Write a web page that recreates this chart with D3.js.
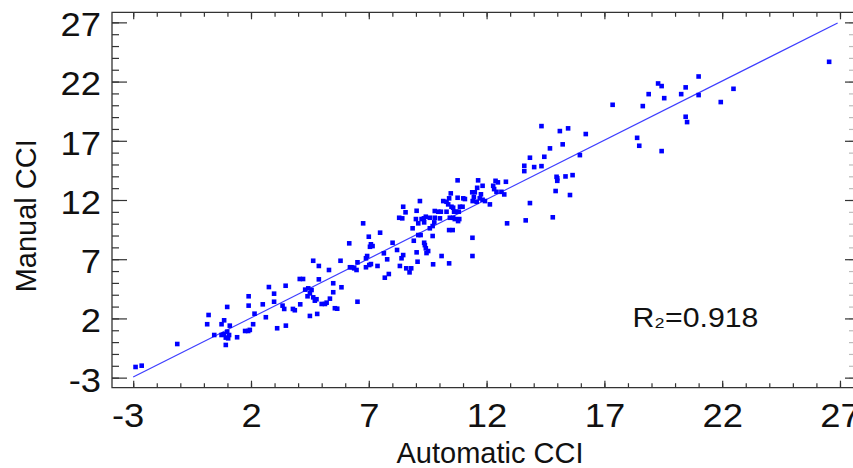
<!DOCTYPE html>
<html><head><meta charset="utf-8">
<script src="https://cdn.jsdelivr.net/npm/d3@7"></script>
<style>html,body{margin:0;padding:0;background:#fff;overflow:hidden}</style>
</head><body>
<svg id="chart" width="853" height="468"></svg>
<script>
// Automatic CCI (x) and Manual CCI (y) for each case
const autoCCI = [
 -2.90,-2.64,-1.13,0.20,0.14,0.75,0.86,0.99,0.44,0.75,0.85,0.99,1.07,0.93,1.03,1.10,0.93,1.41,1.75,1.88,1.95,1.90,1.90,2.09,2.15,2.50,2.63,2.76,2.98,2.98,3.11,3.48,3.47,3.34,3.41,3.78,3.86,4.09,4.07,4.21,4.30,4.43,4.40,
 4.50,4.57,4.64,4.71,4.78,5.00,5.14,5.21,5.35,5.56,5.66,4.81,4.50,5.49,5.84,5.49,4.88,6.52,4.64,4.88,5.31,5.80,6.20,6.27,6.38,6.48,6.52,6.17,6.76,7.00,7.09,7.16,7.05,6.93,6.88,7.09,7.02,6.88,7.37,7.48,8.01,8.20,7.64,7.78,7.85,7.68,8.29,8.42,
 9.17,8.46,9.03,8.56,9.80,9.95,9.42,9.34,9.24,9.59,9.80,9.00,9.10,9.35,9.78,9.71,8.86,9.59,9.10,9.20,9.71,8.91,9.35,9.38,9.42,9.52,9.45,9.03,8.46,8.39,9.07,9.73,8.59,8.80,8.73,8.32,
 10.77,11.64,12.38,12.48,12.82,11.60,11.83,12.28,12.32,12.42,12.63,12.75,11.39,11.50,10.48,10.41,11.76,11.71,11.83,11.93,11.01,11.08,10.77,11.46,11.41,11.58,10.16,10.30,10.37,10.51,10.58,10.62,10.87,10.98,12.14,10.06,10.30,10.72,10.82,10.02,10.44,10.58,10.65,10.84,10.79,10.41,10.56,12.87,11.40,10.09,11.40,10.41,
 14.33,15.11,15.46,16.21,15.23,14.69,13.84,14.45,15.96,13.60,13.60,14.02,14.33,14.97,15.00,15.00,15.35,15.65,14.93,15.54,13.84,13.66,14.81,17.35,18.39,18.48,
 18.63,18.88,19.28,19.43,19.54,19.43,20.26,20.45,20.45,20.51,21.00,21.00,21.94,22.48,26.54
];
const manualCCI = [
 -2.10,-1.99,-0.16,2.29,1.51,1.51,1.84,2.97,0.60,0.60,0.66,0.88,0.60,0.38,0.32,1.39,-0.24,0.41,0.94,0.94,1.03,3.87,3.08,1.51,2.40,3.19,2.10,4.65,4.09,3.41,1.17,1.39,4.76,3.08,2.80,2.80,2.69,3.19,5.33,5.33,4.43,4.54,3.87,
 4.12,4.40,3.78,3.50,3.62,3.22,3.22,3.33,3.67,2.86,2.82,2.38,2.21,4.21,4.63,4.97,5.30,3.41,6.87,6.43,6.09,6.87,6.32,6.32,6.23,6.09,6.74,8.34,10.03,8.90,8.26,8.11,8.05,7.27,7.08,6.59,6.51,6.32,6.43,9.24,8.39,7.78,7.50,6.99,5.75,5.44,10.50,10.45,
 11.91,11.43,11.09,10.96,11.07,11.01,10.59,10.45,10.39,10.50,10.50,10.39,10.03,10.11,10.11,9.80,9.61,9.61,9.04,9.04,8.96,8.56,8.39,8.19,7.92,7.69,7.52,7.58,7.35,7.08,6.79,6.57,6.23,6.23,5.89,6.43,
 13.66,13.66,13.62,13.49,13.54,13.03,13.20,13.20,12.92,12.69,12.69,12.47,12.65,12.65,12.56,12.14,12.48,12.14,12.02,11.91,12.14,12.08,12.19,12.24,11.91,11.85,11.91,11.85,11.63,11.43,11.35,11.01,11.43,11.43,11.63,11.01,11.01,11.01,11.01,10.45,10.50,10.50,10.39,10.39,10.22,9.46,9.46,10.03,8.81,7.27,7.27,6.65,
 18.24,17.82,18.05,17.57,16.70,16.36,15.57,15.65,15.79,14.89,14.44,14.78,14.86,13.96,13.83,13.62,13.99,14.10,12.76,12.42,11.74,10.28,10.54,20.04,17.25,16.58,
 19.93,20.94,21.84,21.62,20.60,16.13,20.94,21.51,19.03,18.58,22.43,20.86,20.27,21.39,23.67
];
const majorTicks = [-3, 2, 7, 12, 17, 22, 27];
const minorTicks = d3.range(-3, 28, 1);
const fitX = [-3, 26.9];
const fitY = [-2.95, 26.95];
const r2Base = "R", r2Sub = "₂", r2Rest = "=0.918";
const xTitle = "Automatic CCI";
const yTitle = "Manual CCI";

const svg = d3.select("#chart");
const FONT = "'Liberation Sans', Arial, Helvetica, sans-serif";
const x = d3.scaleLinear().domain([-3.9, 27.85]).range([112, 860]);
const y = d3.scaleLinear().domain([-3.85, 27.85]).range([387.7, 12.3]);
const [x0, x1] = x.range(), [y0, y1] = y.range();
const axisColor = "#333";

function styleAxis(g, color) {
  g.select(".domain").remove();
  g.selectAll(".tick line").attr("stroke", color || axisColor).attr("stroke-width", 1.2);
}

// bottom axis
svg.append("g").attr("transform", `translate(0,${y0})`)
  .call(d3.axisBottom(x).tickValues(minorTicks).tickSize(-4.5).tickFormat(""))
  .call(styleAxis).selectAll("text").remove();
const bx = svg.append("g").attr("transform", `translate(0,${y0})`)
  .call(d3.axisBottom(x).tickValues(majorTicks).tickSize(-7).tickFormat(d3.format("d")))
  .call(styleAxis);
bx.selectAll("text")
  .attr("y", null).attr("dy", null)
  .attr("x", d => d < 0 ? -5 : 0)
  .attr("transform", d => `translate(0,39.3) scale(1.12,1)`)
  .attr("font-family", FONT).attr("font-size", 32.5).attr("fill", "#111")
  .text(d => d < 0 ? "-" + Math.abs(d) : d);

// top axis
svg.append("g").attr("transform", `translate(0,${y1})`)
  .call(d3.axisTop(x).tickValues(minorTicks).tickSize(-4.5).tickFormat(""))
  .call(styleAxis).selectAll("text").remove();
svg.append("g").attr("transform", `translate(0,${y1})`)
  .call(d3.axisTop(x).tickValues(majorTicks).tickSize(-7).tickFormat(""))
  .call(styleAxis).selectAll("text").remove();

// left axis
svg.append("g").attr("transform", `translate(${x0},0)`)
  .call(d3.axisLeft(y).tickValues(minorTicks).tickSize(-7).tickFormat(""))
  .call(styleAxis).selectAll("text").remove();
const ly = svg.append("g").attr("transform", `translate(${x0},0)`)
  .call(d3.axisLeft(y).tickValues(majorTicks).tickSize(-15).tickFormat(d3.format("d")))
  .call(styleAxis);
ly.selectAll("text")
  .attr("x", 0).attr("dy", null).attr("y", 0)
  .attr("text-anchor", "end")
  .attr("transform", "translate(-11,13.4) scale(1.12,1)")
  .attr("font-family", FONT).attr("font-size", 32.5).attr("fill", "#111")
  .text(d => d < 0 ? "-" + Math.abs(d) : d);

// right axis
svg.append("g").attr("transform", `translate(${x1},0)`)
  .call(d3.axisRight(y).tickValues(minorTicks).tickSize(-11).tickFormat(""))
  .call(g => styleAxis(g, "#bbb")).selectAll("text").remove();
svg.append("g").attr("transform", `translate(${x1},0)`)
  .call(d3.axisRight(y).tickValues(majorTicks).tickSize(-15).tickFormat(""))
  .call(styleAxis).selectAll("text").remove();

// frame
svg.append("path")
  .attr("d", `M${x1},${y1}H${x0}V${y0}H${x1}`)
  .attr("fill", "none").attr("stroke", axisColor).attr("stroke-width", 1.3);

// regression line
svg.append("line")
  .attr("x1", x(fitX[0])).attr("y1", y(fitY[0]))
  .attr("x2", x(fitX[1])).attr("y2", y(fitY[1]))
  .attr("stroke", "#3d3dff").attr("stroke-width", 1.2);

// points
const S = 4.6;
svg.append("g").selectAll("rect")
  .data(autoCCI.map((v, i) => [v, manualCCI[i]]))
  .join("rect")
  .attr("x", d => x(d[0]) - S / 2).attr("y", d => y(d[1]) - S / 2)
  .attr("width", S).attr("height", S)
  .attr("fill", "#0000ff");

// R2 annotation
const r2 = svg.append("text")
  .attr("transform", "translate(632.5,326.7) scale(1.1,1)")
  .attr("font-family", FONT).attr("font-size", 27.5).attr("fill", "#111");
r2.append("tspan").text(r2Base);
r2.append("tspan").attr("font-size", 25).attr("dy", -1).text(r2Sub);
r2.append("tspan").attr("dy", 1).text(r2Rest);

// titles
svg.append("text")
  .attr("x", 490).attr("y", 463.3)
  .attr("text-anchor", "middle")
  .attr("font-family", FONT).attr("font-size", 29).attr("fill", "#111")
  .text(xTitle);
svg.append("text")
  .attr("transform", "translate(35.5,215.8) rotate(-90)")
  .attr("text-anchor", "middle")
  .attr("font-family", FONT).attr("font-size", 29).attr("fill", "#111")
  .text(yTitle);
</script>
</body></html>
